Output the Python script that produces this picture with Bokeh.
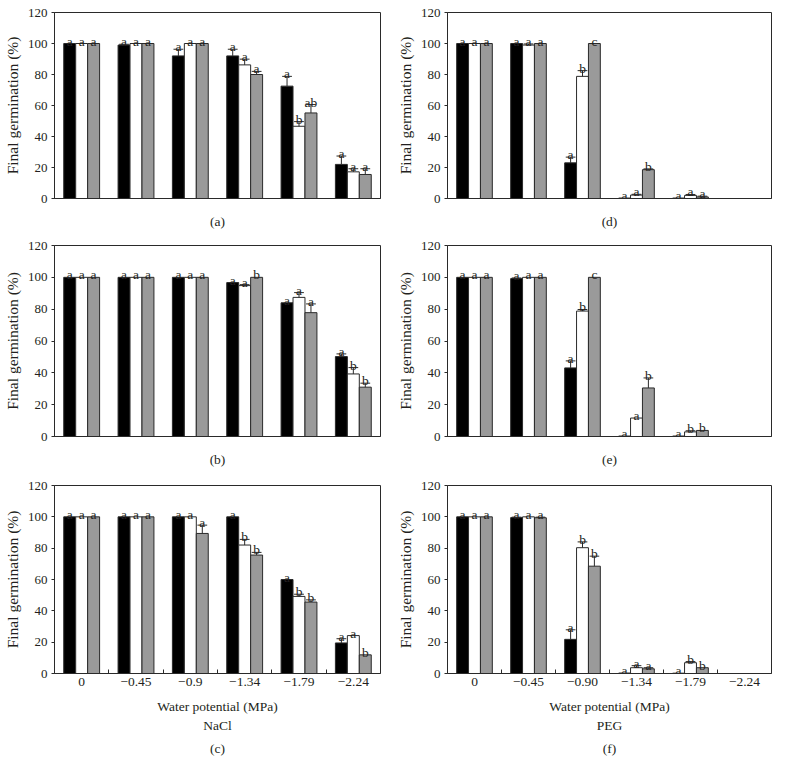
from bokeh.plotting import figure
from bokeh.layouts import column, row
from bokeh.models import FixedTicker, Range1d, Title
from bokeh.core.properties import value
from bokeh.embed import file_html
from bokeh.resources import INLINE

FONT = "Liberation Serif"
TXT = "#231f20"
EDGE = "#2a2a2a"

# ---- categories (water potential, MPa) ----
potentials_nacl = ["0", "\u22120.45", "\u22120.9", "\u22121.34", "\u22121.79", "\u22122.24"]
potentials_peg = ["0", "\u22120.45", "\u22120.90", "\u22121.34", "\u22121.79", "\u22122.24"]

# ---- panel (a) NaCl ----
a_s1 = [100, 99, 92, 92, 72.5, 22]
a_s1_err = [0, 0.5, 4.3, 4.3, 6.3, 5.4]
a_s1_sig = ["a", "a", "a", "a", "a", "a"]
a_s2 = [100, 100, 100, 86.2, 46.6, 17.2]
a_s2_err = [0, 0, 0, 3.7, 3.0, 2.0]
a_s2_sig = ["a", "a", "a", "a", "b", "a"]
a_s3 = [100, 100, 100, 80, 55.2, 15.5]
a_s3_err = [0, 0, 0, 2.0, 5.4, 3.7]
a_s3_sig = ["a", "a", "a", "a", "ab", "a"]

# ---- panel (b) NaCl ----
b_s1 = [100, 100, 100, 96.7, 84, 50.2]
b_s1_err = [0, 0, 0, 0, 0, 1.7]
b_s1_sig = ["a", "a", "a", "a", "a", "a"]
b_s2 = [100, 100, 100, 94.8, 87.4, 39.3]
b_s2_err = [0, 0, 0, 0.6, 3.0, 4.0]
b_s2_sig = ["a", "a", "a", "a", "a", "b"]
b_s3 = [100, 100, 100, 100, 77.8, 31]
b_s3_err = [0, 0, 0, 0, 5.5, 2.5]
b_s3_sig = ["a", "a", "a", "b", "a", "b"]

# ---- panel (c) NaCl ----
c_s1 = [100, 100, 100, 100, 60, 19.5]
c_s1_err = [0, 0, 0, 0, 0, 2.7]
c_s1_sig = ["a", "a", "a", "a", "a", "a"]
c_s2 = [100, 100, 100, 82, 49.2, 24.2]
c_s2_err = [0, 0, 0, 3.6, 1.4, 0]
c_s2_sig = ["a", "a", "a", "b", "b", "a"]
c_s3 = [100, 100, 89.4, 75.6, 45.6, 11.9]
c_s3_err = [0, 0, 5.3, 1.7, 1.4, 0]
c_s3_sig = ["a", "a", "a", "b", "b", "b"]

# ---- panel (d) PEG ----
d_s1 = [100, 100, 23, 0.3, 0.3, 0]
d_s1_err = [0, 0, 3.7, 0, 0, 0]
d_s1_sig = ["a", "a", "a", "a", "a", ""]
d_s2 = [100, 99, 78.8, 2.2, 2.0, 0]
d_s2_err = [0, 0.7, 3.7, 0.5, 0.6, 0]
d_s2_sig = ["a", "a", "b", "a", "a", ""]
d_s3 = [100, 100, 100, 18.6, 1.0, 0]
d_s3_err = [0, 0, 0, 0.5, 0.5, 0]
d_s3_sig = ["a", "a", "c", "b", "a", ""]

# ---- panel (e) PEG ----
e_s1 = [100, 99.2, 43.1, 0.3, 0.3, 0]
e_s1_err = [0, 0.4, 4.4, 0, 0, 0]
e_s1_sig = ["a", "a", "a", "a", "a", ""]
e_s2 = [100, 100, 78.8, 11.6, 2.9, 0]
e_s2_err = [0, 0, 1.0, 0, 0.7, 0]
e_s2_sig = ["a", "a", "b", "a", "b", ""]
e_s3 = [100, 100, 100, 30.5, 3.8, 0]
e_s3_err = [0, 0, 0, 6.3, 0, 0]
e_s3_sig = ["a", "a", "c", "b", "b", ""]

# ---- panel (f) PEG ----
f_s1 = [100, 99.5, 21.8, 0.3, 0.2, 0]
f_s1_err = [0, 0.3, 6.1, 0, 0, 0]
f_s1_sig = ["a", "a", "a", "a", "a", ""]
f_s2 = [100, 100, 80.3, 3.7, 6.9, 0]
f_s2_err = [0, 0, 3.7, 1.3, 0.7, 0]
f_s2_sig = ["a", "a", "b", "a", "b", ""]
f_s3 = [100, 99.4, 68.5, 3.0, 3.7, 0]
f_s3_err = [0, 0.4, 6.4, 0.7, 0, 0]
f_s3_sig = ["a", "a", "b", "a", "b", ""]

y_ticks = [0, 20, 40, 60, 80, 100, 120]
series_colors = ["#000000", "#ffffff", "#9a9a9a"]
offsets = [-0.22, 0.0, 0.22]
BAR_W = 0.22
CAP = 0.09


def make_panel(series, errs, sigs, caption, width, height, borders,
               tick_labels=None, xlabel=None, agent=None):
    bl, br, bt, bb = borders
    n = len(series[0])
    p = figure(width=width, height=height, x_range=Range1d(0, n), y_range=Range1d(0, 120),
               output_backend="svg", toolbar_location=None,
               min_border_left=bl, min_border_right=br, min_border_top=bt, min_border_bottom=bb)
    p.xgrid.visible = False
    p.ygrid.visible = False
    p.outline_line_color = EDGE
    p.outline_line_width = 1
    p.background_fill_color = "white"
    p.border_fill_color = "white"

    for vals, err, sig, color, off in zip(series, errs, sigs, series_colors, offsets):
        xs = [i + 0.5 + off for i in range(n)]
        p.vbar(x=xs, top=vals, bottom=0, width=BAR_W, fill_color=color,
               line_color=EDGE, line_width=1)
        ex = [x for x, e in zip(xs, err) if e > 0]
        ey0 = [v for v, e in zip(vals, err) if e > 0]
        ey1 = [v + e for v, e in zip(vals, err) if e > 0]
        if ex:
            p.segment(x0=ex, y0=ey0, x1=ex, y1=ey1, line_color=EDGE, line_width=1)
            p.segment(x0=[x - CAP for x in ex], y0=ey1, x1=[x + CAP for x in ex], y1=ey1,
                      line_color=EDGE, line_width=1)
        lx = [x for x, s in zip(xs, sig) if s]
        ly = [v + e for v, e, s in zip(vals, err, sig) if s]
        lt = [s for s in sig if s]
        p.text(x=lx, y=ly, text=lt, text_align="center", text_baseline="alphabetic",
               y_offset=-2.5, text_font=value(FONT), text_font_size="13.5px", text_color=TXT)

    ya = p.yaxis[0]
    ya.ticker = FixedTicker(ticks=y_ticks)
    ya.minor_tick_line_color = None
    ya.major_tick_in = 0
    ya.major_tick_out = 3
    ya.major_tick_line_color = EDGE
    ya.axis_line_color = EDGE
    ya.major_label_standoff = 4
    ya.major_label_text_font = FONT
    ya.major_label_text_font_size = "13px"
    ya.major_label_text_color = TXT
    ya.axis_label = "Final germination (%)"
    ya.axis_label_text_font = FONT
    ya.axis_label_text_font_size = "15.5px"
    ya.axis_label_text_font_style = "normal"
    ya.axis_label_text_color = TXT
    ya.axis_label_standoff = 4

    xa = p.xaxis[0]
    xa.axis_line_color = EDGE
    xa.major_tick_in = 0
    xa.major_tick_out = 0
    xa.major_tick_line_color = None
    xa.axis_label_text_font = FONT
    xa.axis_label_text_font_style = "normal"
    xa.axis_label_text_color = TXT
    xa.major_label_text_font = FONT
    xa.major_label_text_color = TXT
    if tick_labels is not None:
        centers = [i + 0.5 for i in range(n)]
        xa.ticker = FixedTicker(ticks=centers, minor_ticks=[i for i in range(1, n)])
        xa.major_label_overrides = {c: t for c, t in zip(centers, tick_labels)}
        xa.minor_tick_in = 4
        xa.minor_tick_out = 0
        xa.minor_tick_line_color = EDGE
        xa.major_label_standoff = 4
        xa.major_label_text_font_size = "13.5px"
        xa.axis_label = xlabel
        xa.axis_label_text_font_size = "13.5px"
        xa.axis_label_standoff = 10
        p.add_layout(Title(text=agent, align="center", text_font=FONT, text_font_size="13.5px",
                           text_font_style="normal", text_color=TXT, standoff=-1), "below")
        p.add_layout(Title(text=caption, align="center", text_font=FONT, text_font_size="13.5px",
                           text_font_style="normal", text_color=TXT, standoff=12), "below")
    else:
        xa.ticker = FixedTicker(ticks=[])
        xa.minor_tick_line_color = None
        xa.major_label_text_font_size = "0px"
        xa.axis_label = caption
        xa.axis_label_text_font_size = "13.5px"
        xa.axis_label_standoff = 15
    return p


LW, RW = 392, 382
LB = (46, 12)
RB = (55, 3)

pa = make_panel([a_s1, a_s2, a_s3], [a_s1_err, a_s2_err, a_s3_err], [a_s1_sig, a_s2_sig, a_s3_sig],
                "(a)", LW, 236, (LB[0], LB[1], 12, 38))
pd_ = make_panel([d_s1, d_s2, d_s3], [d_s1_err, d_s2_err, d_s3_err], [d_s1_sig, d_s2_sig, d_s3_sig],
                 "(d)", RW, 236, (RB[0], RB[1], 12, 38))
pb = make_panel([b_s1, b_s2, b_s3], [b_s1_err, b_s2_err, b_s3_err], [b_s1_sig, b_s2_sig, b_s3_sig],
                "(b)", LW, 238, (LB[0], LB[1], 9, 38))
pe = make_panel([e_s1, e_s2, e_s3], [e_s1_err, e_s2_err, e_s3_err], [e_s1_sig, e_s2_sig, e_s3_sig],
                "(e)", RW, 238, (RB[0], RB[1], 9, 38))
pc = make_panel([c_s1, c_s2, c_s3], [c_s1_err, c_s2_err, c_s3_err], [c_s1_sig, c_s2_sig, c_s3_sig],
                "(c)", LW, 287, (LB[0], LB[1], 11, 88),
                tick_labels=potentials_nacl, xlabel="Water potential (MPa)", agent="NaCl")
pf = make_panel([f_s1, f_s2, f_s3], [f_s1_err, f_s2_err, f_s3_err], [f_s1_sig, f_s2_sig, f_s3_sig],
                "(f)", RW, 287, (RB[0], RB[1], 11, 88),
                tick_labels=potentials_peg, xlabel="Water potential (MPa)", agent="PEG")

layout = column(row(pa, pd_), row(pb, pe), row(pc, pf))

with open("out.html", "w") as fh:
    fh.write(file_html(layout, INLINE))
